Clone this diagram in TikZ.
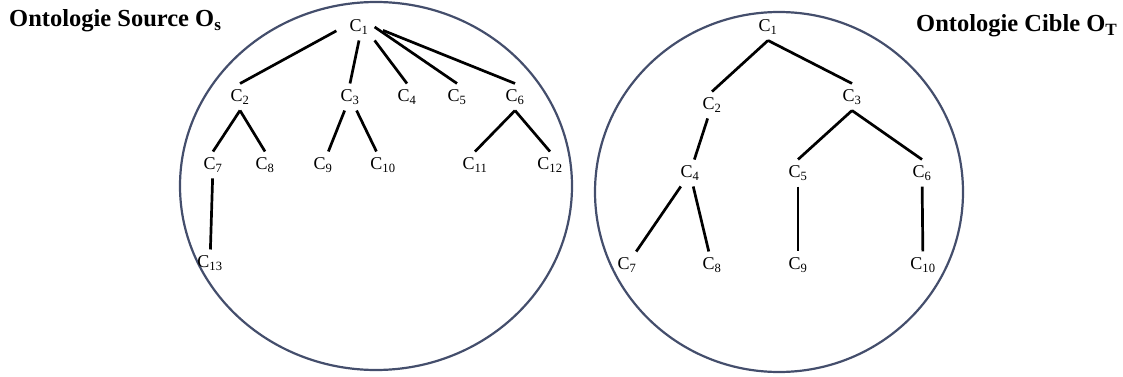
\documentclass[tikz,border=0pt]{standalone}
\usepackage{fontspec}
\setmainfont{Liberation Serif}

\begin{document}
\begin{tikzpicture}[x=1pt, y=-1pt,
    concept/.style={font=\fontsize{18}{20}\selectfont, inner sep=6pt},
    heading/.style={font=\fontsize{24.5}{27}\selectfont\bfseries, inner sep=0pt, anchor=base west},
    link/.style={line width=2.7pt, black},
    ring/.style={line width=2.2pt, color={rgb,255:red,68;green,78;blue,108}}]
  % Page of the same size as the reference
  \useasboundingbox (0,0) rectangle (1123,377);
  % The two ontologies, each inside its own circle
  \draw[ring] (376,186) ellipse [x radius=196pt, y radius=184pt];
  \draw[ring] (779,192) ellipse [x radius=184pt, y radius=180pt];
  % Titles
  \node[heading] (srctitle) at (9,27) {Ontologie Source O\textsubscript{s}};
  \node[heading] (tgttitle) at (916,32) {Ontologie Cible O\textsubscript{T}};
  % Source ontology concepts
  \foreach \n/\x/\y in {1/359/27, 2/240/97, 3/350/97, 4/407/97, 5/457/97,
      6/515/97, 7/213/165, 8/265/165, 9/323/165, 10/383/165, 11/475/165,
      12/550/165, 13/210/263} {
    \node[concept] (s\n) at (\x,\y) {C\textsubscript{\n}};
  }
  \draw[link, shorten <=8pt] (s1.west) -- (s2.north);
  \draw[link, shorten <=9pt] (s1.east) -- (s6.north);
  \foreach \a/\b in {s1.south/s3.north, s1.south east/s4.north, s1.east/s5.north,
      s2.south/s7.north, s2.south/s8.north, s3/s9, s3/s10,
      s6.south/s11.north, s6.south/s12.north, s7/s13} {
    \draw[link] (\a) -- (\b);
  }
  % Target ontology concepts
  \foreach \n/\x/\y in {1/768/27, 2/712/105, 3/852/97, 4/690/173, 5/798/173,
      6/922/173, 7/627/265, 8/712/265, 9/798/265, 10/923/265} {
    \node[concept] (t\n) at (\x,\y) {C\textsubscript{\n}};
  }
  \foreach \a/\b in {t1.south/t2.north, t1.south/t3.north, t2/t4,
      t3.south/t5.north, t3.south/t6.north, t4/t7, t4/t8, t5/t9, t6/t10} {
    \draw[link] (\a) -- (\b);
  }
\end{tikzpicture}
\end{document}
